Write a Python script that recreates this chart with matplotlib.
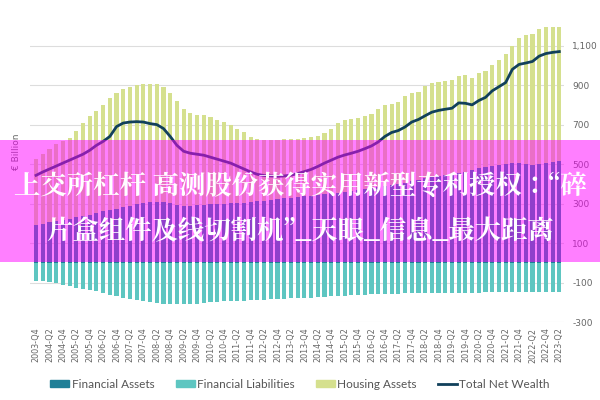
import matplotlib
matplotlib.use("Agg")
import matplotlib.pyplot as plt
import matplotlib.patches as mpatches
from matplotlib.lines import Line2D
from matplotlib import font_manager as fm
import numpy as np

quarters = []
for y in range(2003, 2024):
    for q in range(1, 5):
        if (y == 2003 and q < 4) or (y == 2023 and q > 2):
            continue
        quarters.append(f"{y}-Q{q}")

financial_assets = [190,198,205,212,218,224,230,235,243,252,260,268,275,282,290,297,303,307,308,307,
                    303,295,290,290,293,295,297,298,300,301,302,305,308,311,314,318,322,326,330,333,
                    337,340,344,348,352,356,360,364,368,372,377,382,388,392,398,405,412,420,430,436,
                    442,446,450,457,462,470,478,484,490,496,500,505,507,502,495,500,505,510,515]
housing_assets = [334,351,370,388,397,406,440,475,503,518,540,569,585,598,600,603,602,600,597,583,
                  559,525,490,468,457,453,441,423,413,395,378,358,327,314,308,304,300,299,295,295,
                  295,295,298,307,328,352,361,366,367,370,375,398,412,413,415,441,448,446,467,474,
                  475,476,477,489,491,468,482,488,510,531,558,591,631,653,665,683,691,686,681]
financial_liabilities = [-90,-93,-95,-103,-115,-120,-126,-132,-137,-142,-152,-162,-170,-180,-186,-191,-195,-199,-205,-209,
                         -210,-210,-210,-210,-208,-203,-199,-197,-196,-195,-194,-193,-191,-190,-188,-186,-184,-182,-180,-179,
                         -178,-176,-174,-172,-170,-168,-166,-164,-162,-161,-160,-159,-158,-157,-156,-155,-154,-154,-153,-153,
                         -152,-152,-152,-151,-151,-151,-151,-150,-150,-150,-150,-149,-149,-149,-148,-148,-148,-147,-147]
total_net_wealth = [443,460,475,490,505,520,535,550,570,595,615,640,690,708,713,715,713,705,700,680,
                    640,595,565,555,550,545,535,525,515,505,490,475,460,448,442,440,438,440,444,452,
                    462,473,488,505,520,535,546,555,565,578,592,612,640,660,670,688,713,726,745,763,
                    772,778,783,810,808,800,822,838,871,892,913,980,1005,1012,1020,1047,1060,1066,1070]

yticks = [-300, -100, 100, 300, 500, 700, 900, 1100]
ytick_labels = ["-300", "-100", "100", "300", "500", "700", "900", "1,100"]

c_fa = "#1f7f97"
c_fl = "#5ec6c1"
c_ha = "#d5e08e"
c_nw = "#11405b"

cjk_path = None
cands = [f for f in fm.findSystemFonts() if "CJK" in f or "cjk" in f.lower()]
bold = [f for f in cands if "Bold" in f]
if bold:
    cjk_path = bold[0]
elif cands:
    cjk_path = cands[0]
if cjk_path:
    cjk_prop = fm.FontProperties(fname=cjk_path, size=19, weight="bold")
else:
    cjk_prop = fm.FontProperties(family="Noto Sans CJK SC", size=19, weight="bold")

fig = plt.figure(figsize=(6, 4), dpi=100)
ax = fig.add_axes([0.05, 0.195, 0.89, 0.755])
x = np.arange(len(quarters))
w = 0.62
ax.bar(x, financial_assets, w, color=c_fa, zorder=2)
ax.bar(x, housing_assets, w, bottom=financial_assets, color=c_ha, zorder=2)
ax.bar(x, financial_liabilities, w, color=c_fl, zorder=2)
ax.plot(x, total_net_wealth, color=c_nw, lw=2, zorder=3)

ax.set_ylim(-300, 1230)
ax.set_xlim(-0.9, len(quarters) - 0.3)
ax.set_yticks(yticks)
ax.set_yticklabels(ytick_labels)
ax.yaxis.tick_right()
ax.grid(axis="y", color="#dddddd", lw=0.8, zorder=0)
ax.tick_params(axis="y", length=0, labelsize=6.5, colors="#666666", pad=6)
ax.set_xticks(x[::2])
ax.set_xticklabels(quarters[::2], rotation=90, fontsize=5.8, color="#666666")
ax.tick_params(axis="x", length=0, pad=4)
for s in ax.spines.values():
    s.set_visible(False)
fig.text(0.027, 0.62, "€ Billion", rotation=90, fontsize=6.5, color="#666666", ha="center", va="center")

handles = [mpatches.Patch(color=c_fa), mpatches.Patch(color=c_fl), mpatches.Patch(color=c_ha),
           Line2D([0], [0], color=c_nw, lw=2)]
fig.legend(handles, ["Financial Assets", "Financial Liabilities", "Housing Assets", "Total Net Wealth"],
           loc="center", bbox_to_anchor=(0.5, 0.04), ncol=4, frameon=False,
           handlelength=1.6, handleheight=0.6, columnspacing=1.8, handletextpad=0.2,
           labelcolor="#555555", prop={"family": "Lato", "size": 8.5})

band = mpatches.Rectangle((0, 1 - 262/400), 1, 122/400, transform=fig.transFigure,
                          facecolor="#ff00ff", alpha=0.5, zorder=10)
fig.patches.append(band)
fig.text(0.5, 1 - 187/400, "上交所杠杆 高测股份获得实用新型专利授权：“碎", fontproperties=cjk_prop,
         color="white", ha="center", va="center", zorder=11)
fig.text(0.5, 1 - 231/400, "片盒组件及线切割机”_天眼_信息_最大距离", fontproperties=cjk_prop,
         color="white", ha="center", va="center", zorder=11)

fig.savefig("out.png", dpi=100)
